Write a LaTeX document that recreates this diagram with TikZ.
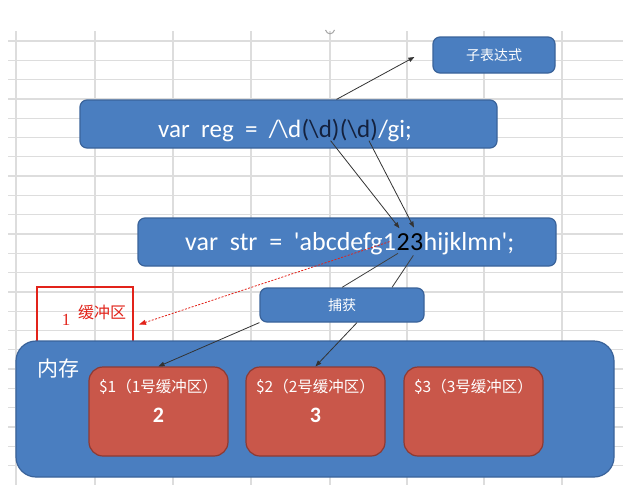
\documentclass[tikz,border=0pt]{standalone}
\usepackage{fontspec}
\setmainfont{Carlito}
\newfontfamily\codefont{Carlito}
\newfontfamily\cjk{Noto Sans CJK SC}
\newfontfamily\serif{Liberation Serif}
\usetikzlibrary{arrows.meta}
\definecolor{boxblue}{HTML}{4A7EC0}
\definecolor{boxedge}{HTML}{3A639A}
\definecolor{bufred}{HTML}{C9574A}
\definecolor{bufedge}{HTML}{8E3A33}
\definecolor{gridgray}{HTML}{DDDDDD}
\definecolor{markred}{HTML}{E2231A}
\definecolor{navy}{HTML}{14213D}
\tikzset{
  gridline/.style={draw=gridgray, line width=1.3pt},
  blk/.style={draw=boxedge, line width=1.2pt, fill=boxblue, rounded corners=7pt, inner sep=0pt},
  buf/.style={draw=bufedge, line width=1.2pt, fill=bufred, rounded corners=14pt, minimum width=139pt, minimum height=89pt, inner sep=0pt},
  code/.style={text=white, inner sep=0pt, font=\codefont\fontsize{25}{30}\selectfont},
  strcode/.style={code, font=\codefont\fontsize{26}{30}\selectfont},
  hl/.style={text=navy},
  label/.style={text=white, font=\cjk\fontsize{14}{16}\selectfont},
  ptr/.style={draw=black!80, line width=0.8pt, -{Triangle[length=6pt,width=4.5pt]}},
  link/.style={draw=black!75, line width=0.8pt},
  redptr/.style={draw=markred, line width=0.8pt, dash pattern=on 2pt off 1.5pt, -{Triangle[length=7pt,width=5pt]}},
}

\begin{document}
\begin{tikzpicture}[x=1pt, y=-1pt]
			%%%%% START %%%%%
			\useasboundingbox[fill=white] (0,0) rectangle (642,490);
			
			% spreadsheet grid
			\foreach \k in {0,...,22}
				\draw[gridline] (8,{41+19.3*\k}) -- (623,{41+19.3*\k});
			\foreach \x in {16,95,173,251,330,407,484,562}
				\draw[gridline] (\x,31) -- (\x,485);
			\draw[gray!70, line width=1pt] (325.5,30) .. controls (327,35) and (333,35) .. (334.5,30);
			
			% regex
			\node[blk, minimum width=122pt, minimum height=36pt] (sub) at (494,55) {};
			\node[label] (subtext) at (sub) {子表达式};
			\node[blk, minimum width=417pt, minimum height=48pt] (reg) at (288.5,124) {};
			\node[code, anchor=base west] (reg1) at (158,137) {var\ \ reg\ \ =\ \ /\textbackslash d};
			\node[code, hl, anchor=base west] (grp1) at (reg1.base east) {(\textbackslash d)};
			\node[code, hl, anchor=base west] (grp2) at (grp1.base east) {(\textbackslash d)};
			\node[code, anchor=base west] (reg2) at (grp2.base east) {/gi;};
			
			% string
			\node[blk, minimum width=418pt, minimum height=48pt] (str) at (347,242) {};
			\node[strcode, anchor=base west] (str1) at (185,250) {var\ \ str\ \ =\ \ 'abcdefg};
			\node[strcode, anchor=base west] (c1) at (str1.base east) {1};
			\node[strcode, text=black, anchor=base west] (c2) at (c1.base east) {2};
			\node[strcode, text=black, anchor=base west] (c3) at (c2.base east) {3};
			\node[strcode, anchor=base west] (str2) at (c3.base east) {hijklmn';};
			
			\node[blk, minimum width=164pt, minimum height=34pt] (cap) at (342,305) {};
			\node[label] (captext) at (cap) {捕获};
			
			% buffer note
			\node[draw=markred, line width=2pt, minimum width=96pt, minimum height=63pt, inner sep=0pt] (memo) at (85,318.5) {};
			\node[text=markred, font=\serif\fontsize{17}{20}\selectfont] (memo1) at (66,320) {1};
			\node[text=markred, font=\cjk\fontsize{16}{18}\selectfont] (memo2) at (102,312) {缓冲区};
			
			% memory
			\node[blk, rounded corners=20pt, minimum width=598pt, minimum height=136pt] (mem) at (315,409) {};
			\node[text=white, font=\cjk\fontsize{21}{24}\selectfont] (memtext) at (58,369) {内存};
			\node[buf] (buf1) at (158.5,411.5) {};
			\node[buf] (buf2) at (315.5,411.5) {};
			\node[buf] (buf3) at (473.5,411.5) {};
			\node[label, font=\cjk\fontsize{15.5}{18}\selectfont] (name1) at ([yshift=25pt]buf1.center) {\$1（1号缓冲区）};
			\node[label, font=\cjk\fontsize{15.5}{18}\selectfont] (name2) at ([yshift=25pt]buf2.center) {\$2（2号缓冲区）};
			\node[label, font=\cjk\fontsize{15.5}{18}\selectfont] (name3) at ([yshift=25pt]buf3.center) {\$3（3号缓冲区）};
			\node[code, font=\codefont\bfseries\fontsize{22}{26}\selectfont] (val1) at ([yshift=-4pt]buf1.center) {2};
			\node[code, font=\codefont\bfseries\fontsize{22}{26}\selectfont] (val2) at ([yshift=-4pt]buf2.center) {3};
			
			% connectors
			\draw[ptr] ([xshift=48pt]reg.north) -- ([shift={(-18pt,-2pt)}]sub.west);
			\draw[ptr, shorten >=6pt] ([xshift=10pt]grp1.south) -- (c2.north);
			\draw[ptr, shorten >=6pt] ([xshift=10pt]grp2.south) -- (c3.north);
			\draw[link, shorten <=6pt] (c2.south) -- (cap.north);
			\draw[link, shorten <=6pt] (c3.south) -- ([xshift=50pt]cap.north);
			\draw[ptr] (cap.south west) -- (buf1.north);
			\draw[ptr] ([xshift=15pt]cap.south) -- (buf2.north);
			\draw[redptr] (c1.center) -- ([shift={(5pt,-6pt)}]memo.east);
			
			%%%%% END %%%%%
\end{tikzpicture}
\end{document}
